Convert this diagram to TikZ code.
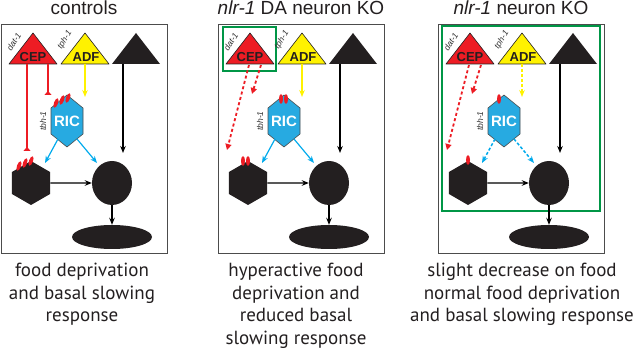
\documentclass[tikz,border=0pt]{standalone}
\usepackage{fontspec}
\setmainfont{PT Sans}
\newfontfamily\arialfont{Liberation Sans}
\usetikzlibrary{positioning, arrows.meta, shapes.geometric}

\definecolor{cepred}{RGB}{237,28,36}
\definecolor{adfyel}{RGB}{255,242,0}
\definecolor{ricblue}{RGB}{39,170,225}
\definecolor{synblue}{RGB}{0,170,236}
\definecolor{kogreen}{RGB}{0,150,70}
\definecolor{ink}{RGB}{35,31,32}

\begin{document}
\begin{tikzpicture}[x=1pt, y=-1pt,
    panel/.style={draw=black!70, line width=0.9pt},
    kobox/.style={draw=kogreen, line width=1.5pt},
    tri/.style={draw=ink, line width=0.6pt, line join=round},
    cell/.style={font=\arialfont\bfseries\fontsize{13}{13}\selectfont,
                 text=ink, inner sep=0pt},
    gene/.style={font=\arialfont\itshape\fontsize{8.5}{8.5}\selectfont,
                 text=black!80, inner sep=0pt},
    hexa/.style={regular polygon, regular polygon sides=6, rotate=30,
                 fill=ink, minimum size=44pt, inner sep=0pt},
    soma/.style={ellipse, fill=ink, inner sep=0pt},
    rcpt/.style={ellipse, fill=cepred, minimum width=4pt,
                 minimum height=10pt, inner sep=0pt},
    head/.style={font=\arialfont\fontsize{19}{19}\selectfont, text=ink,
                 anchor=base},
    note/.style={font=\fontsize{19}{22.5}\selectfont, align=center,
                 text=ink, inner sep=0pt, anchor=north},
    syn/.style={line width=1.2pt, -{Stealth[length=7pt, width=5.5pt]}},
    dsyn/.style={syn, line width=1.5pt, dash pattern=on 3pt off 2pt},
    inh/.style={draw=cepred, line width=1.4pt,
                -{Triangle[reversed, length=4pt, width=7pt]}},
    weak/.style={draw=cepred, line width=1.8pt, dash pattern=on 3pt off 2.5pt,
                 -{Triangle[length=6pt, width=6pt]}}
]
  \useasboundingbox (0,0) rectangle (633,350);

  % KO regions
  \draw[kobox] (223,27) rectangle (276,71);
  \draw[kobox] (442,26) rectangle (600,211);

  % Panels
  \foreach \p/\dx in {a/0, b/217, c/437} {
    \begin{scope}[xshift=\dx pt]
      \draw[panel] (1,24) rectangle (167,253);
      \filldraw[tri, fill=cepred] (9,64) -- (33,33) -- (57,64) -- cycle;
      \filldraw[tri, fill=adfyel] (61,64) -- (85,33) -- (109,64) -- cycle;
      \fill[ink] (112,64) -- (136,33) -- (160,64) -- cycle;
      \node[cell] (\p-cep) at (33,57) {CEP};
      \node[cell] (\p-adf) at (86,57) {ADF};
      \coordinate (\p-blk) at (136,64);
      \node[gene, rotate=58] (\p-dat) at (14,42) {dat-1};
      \node[gene, rotate=58] (\p-tph) at (65,40) {tph-1};
      \filldraw[draw=black!70, line width=0.6pt, fill=ricblue]
        (67,95) -- (83,108) -- (83,134) -- (67,147) -- (51,134) -- (51,108) -- cycle;
      \node[cell, text=white, font=\arialfont\bfseries\fontsize{15}{15}\selectfont]
        (\p-ric) at (67,121) {RIC};
      \node[gene, rotate=90] (\p-tbh) at (43,121) {tbh-1};
      \node[hexa] (\p-hex) at (31,183) {};
      \node[soma, minimum width=40pt, minimum height=44pt] (\p-int) at (112,183) {};
      \node[soma, minimum width=80pt, minimum height=24pt] (\p-beh) at (112,237) {};
      \draw[syn] (\p-hex) -- (\p-int);
      \draw[syn] (\p-int) -- (\p-beh);
      \draw[syn] ([xshift=-13pt]\p-blk) -- ([shift={(11,-30)}]\p-int.center);
    \end{scope}
  }

  % controls
  \draw[inh] ([shift={(-6,7)}]a-cep.center) -- ([shift={(-4,-32)}]a-hex.center);
  \draw[inh] ([shift={(15,7)}]a-cep.center) -- ([shift={(-19,-26)}]a-ric.center);
  \draw[syn, adfyel] ([shift={(-1,7)}]a-adf.center) -- ([shift={(18,-24)}]a-ric.center);
  \draw[syn, synblue] ([shift={(-9,18)}]a-ric.center) -- ([shift={(14,-20)}]a-hex.center);
  \draw[syn, synblue] ([shift={(10,18)}]a-ric.center) -- ([shift={(-15,-20)}]a-int.center);
  \node[rcpt, rotate=-20] (a-r1) at (56,103) {};
  \node[rcpt, rotate=-20] (a-r2) at (62,100) {};
  \node[rcpt, rotate=-20] (a-r3) at (68,98) {};
  \node[rcpt, rotate=-20] (a-r4) at (19,166) {};
  \node[rcpt, rotate=-20] (a-r5) at (25,163) {};
  \node[rcpt, rotate=-20] (a-r6) at (31,161) {};

  % DA neuron KO
  \draw[weak] ([shift={(-1,8)}]b-cep.center) -- ([shift={(-21,-33)}]b-hex.center);
  \draw[weak] ([shift={(11,8)}]b-cep.center) -- ([shift={(-32,-27)}]b-ric.center);
  \draw[syn, adfyel] ([shift={(-1,7)}]b-adf.center) -- ([shift={(18,-24)}]b-ric.center);
  \draw[syn, synblue] ([shift={(-9,18)}]b-ric.center) -- ([shift={(14,-20)}]b-hex.center);
  \draw[syn, synblue] ([shift={(10,18)}]b-ric.center) -- ([shift={(-15,-20)}]b-int.center);
  \node[rcpt] (b-r1) at (281,99) {};
  \node[rcpt] (b-r2) at (286,99) {};
  \node[rcpt] (b-r3) at (243,161) {};
  \node[rcpt] (b-r4) at (248,161) {};

  % neuron KO
  \draw[weak] ([shift={(-1,8)}]c-cep.center) -- ([shift={(-21,-33)}]c-hex.center);
  \draw[weak] ([shift={(11,8)}]c-cep.center) -- ([shift={(-32,-27)}]c-ric.center);
  \draw[dsyn, adfyel] ([shift={(-1,7)}]c-adf.center) -- ([shift={(18,-24)}]c-ric.center);
  \draw[dsyn, synblue] ([shift={(-9,18)}]c-ric.center) -- ([shift={(14,-20)}]c-hex.center);
  \draw[dsyn, synblue] ([shift={(10,18)}]c-ric.center) -- ([shift={(-15,-20)}]c-int.center);
  \node[rcpt] (c-r1) at (499,99) {};
  \node[rcpt] (c-r2) at (468,160) {};

  % Titles
  \node[head] (t-a) at (84,15) {controls};
  \node[head] (t-b) at (301,15) {\textit{nlr-1} DA neuron KO};
  \node[head] (t-c) at (521,15) {\textit{nlr-1} neuron KO};

  % Outcomes
  \node[note] (n-a) at (82,263) {food deprivation\\and basal slowing\\response};
  \node[note] (n-b) at (296,263) {hyperactive food\\deprivation and\\reduced basal\\slowing response};
  \node[note] (n-c) at (522,263) {slight decrease on food\\normal food deprivation\\and basal slowing response};
\end{tikzpicture}
\end{document}
